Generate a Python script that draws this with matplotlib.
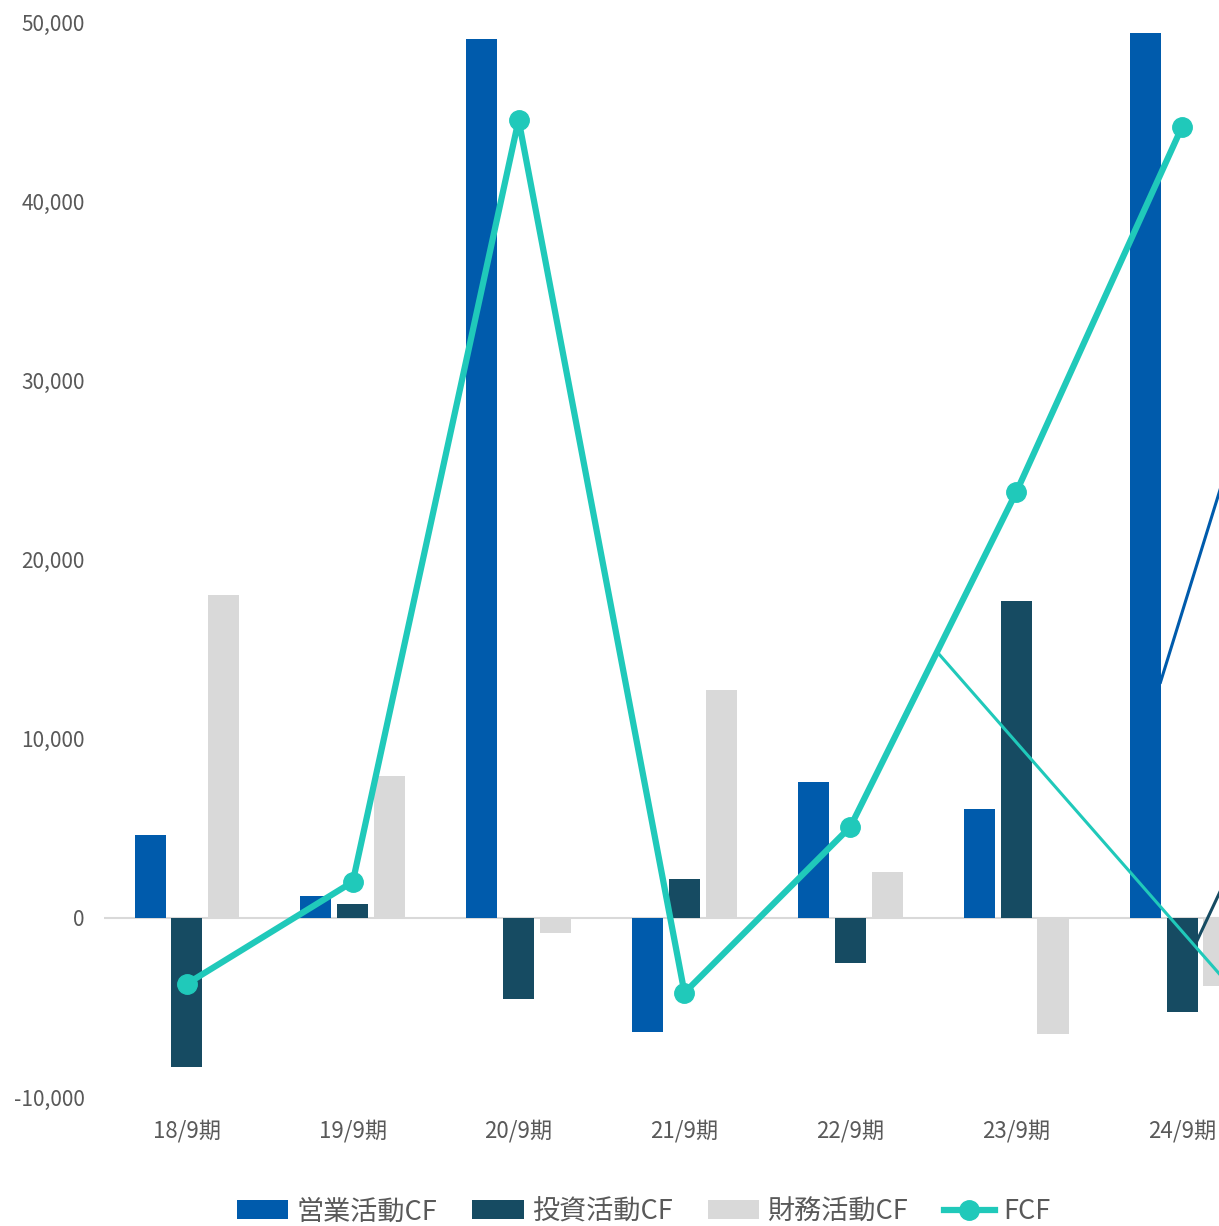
import numpy as np
import matplotlib.pyplot as plt

plt.rcParams['font.family'] = ['Noto Sans CJK JP', 'DejaVu Sans']

# data (百万円 style units)
periods = ['18/9期', '19/9期', '20/9期', '21/9期', '22/9期', '23/9期', '24/9期']
operating_cf = [4630, 1230, 49050, -6360, 7580, 6080, 49390]
investing_cf = [-8300, 780, -4520, 2170, -2510, 17670, -5240]
financing_cf = [18000, 7920, -840, 12710, 2560, -6470, -3790]
fcf = [-3680, 2010, 44540, -4180, 5080, 23750, 44150]

# stray leader lines visible at the right edge of the original
stray_teal_x, stray_teal_y = [4.53, 6.5], [14770, -6030]
stray_blue_x, stray_blue_y = [5.87, 6.5], [13150, 32000]
stray_dark_x, stray_dark_y = [6.09, 6.5], [-1280, 6800]

c_op = '#005BAC'
c_inv = '#164B62'
c_fin = '#D9D9D9'
c_fcf = '#20C9BA'

fig = plt.figure(figsize=(12.19, 12.26), dpi=100)
ax = fig.add_axes([0.0853, 0.1052, 0.9524, 0.8768])

x = np.arange(len(periods))
w = 0.187
step = 0.222
ax.bar(x - step, operating_cf, w, color=c_op, label='営業活動CF', zorder=2)
ax.bar(x, investing_cf, w, color=c_inv, label='投資活動CF', zorder=2)
ax.bar(x + step, financing_cf, w, color=c_fin, label='財務活動CF', zorder=2)

ax.axhline(0, color='#D9D9D9', lw=1.5, zorder=1)

ax.plot(stray_teal_x, stray_teal_y, color=c_fcf, lw=2.2, zorder=3)
ax.plot(stray_blue_x, stray_blue_y, color=c_op, lw=2.2, zorder=3)
ax.plot(stray_dark_x, stray_dark_y, color=c_inv, lw=2.2, zorder=3)

ax.plot(x, fcf, color=c_fcf, lw=4.5, marker='o', markersize=14,
        label='FCF', zorder=4)

ax.set_xlim(-0.5, 6.5)
ax.set_ylim(-10000, 50000)
ax.set_yticks(range(-10000, 50001, 10000))
ax.set_yticklabels([f'{v:,}' for v in range(-10000, 50001, 10000)])
ax.set_xticks(x)
ax.set_xticklabels(periods)
ax.tick_params(axis='both', length=0, colors='#595959')
ax.tick_params(axis='x', pad=16, labelsize=16)
ax.tick_params(axis='y', pad=14, labelsize=15)
for s in ax.spines.values():
    s.set_visible(False)

handles, labels = ax.get_legend_handles_labels()
order = [1, 2, 3, 0]
fig.legend([handles[i] for i in order], [labels[i] for i in order],
           loc='center', bbox_to_anchor=(0.528, 0.0115), ncol=4, frameon=False,
           fontsize=19.5, handlelength=1.9, handletextpad=0.3,
           columnspacing=1.3, labelcolor='#595959')

fig.savefig('out.png', dpi=100)
